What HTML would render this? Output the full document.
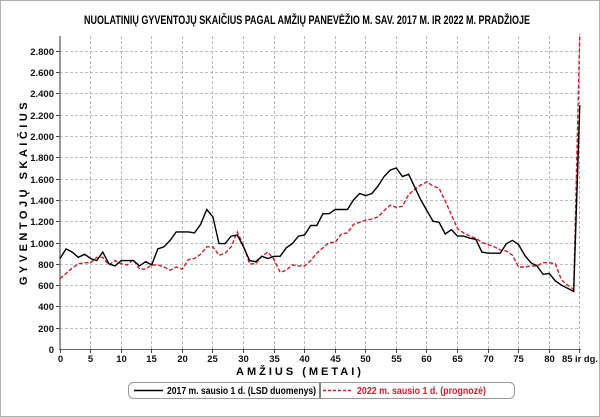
<!DOCTYPE html>
<html><head><meta charset="utf-8"><style>
body{margin:0;background:#fff}
svg{display:block;font-family:"Liberation Sans",Arial,sans-serif}
</style></head><body>
<svg id="s" width="600" height="417" viewBox="0 0 600 417" xmlns="http://www.w3.org/2000/svg">
<rect x="0.5" y="0.5" width="599" height="416" fill="#fff" stroke="#b0b0b0"/>
<text x="307" y="24" font-size="11.5" font-weight="bold" text-anchor="middle" textLength="446" lengthAdjust="spacingAndGlyphs">NUOLATINIŲ  GYVENTOJŲ  SKAIČIUS  PAGAL  AMŽIŲ  PANEVĖŽIO  M.  SAV.  2017  M.  IR  2022  M.  PRADŽIOJE</text>
<g id="grid"></g>
<line x1="60" y1="36" x2="60" y2="350" stroke="#999" stroke-width="2"/>
<line x1="59" y1="349.5" x2="581" y2="349.5" stroke="#666" stroke-width="1"/>
<g id="lbl" font-size="9.5" font-weight="bold" fill="#111"></g>
<text x="562" y="362" font-size="9.5" font-weight="bold" fill="#111" textLength="36" lengthAdjust="spacingAndGlyphs">85 ir dg.</text>
<text x="300" y="375" font-size="11" font-weight="bold" text-anchor="middle" letter-spacing="3">AMŽIUS (METAI)</text>
<text transform="translate(27,192) rotate(-90)" font-size="11" font-weight="bold" text-anchor="middle" letter-spacing="3.5">GYVENTOJŲ SKAIČIUS</text>
<polyline id="red" fill="none" stroke="#c8202c" stroke-width="1.4" stroke-dasharray="4,2"/>
<polyline id="blk" fill="none" stroke="#000" stroke-width="1.4"/>
<rect x="128.5" y="382.5" width="386" height="16" rx="5" fill="#fff" stroke="#999"/>
<line x1="320" y1="383" x2="320" y2="398" stroke="#000"/>
<line x1="134" y1="390.5" x2="163" y2="390.5" stroke="#000" stroke-width="1.5"/>
<text x="167" y="394" font-size="10" font-weight="bold" textLength="149" lengthAdjust="spacingAndGlyphs">2017 m. sausio 1 d. (LSD duomenys)</text>
<line x1="323" y1="390.5" x2="352" y2="390.5" stroke="#c8202c" stroke-width="1.5" stroke-dasharray="3,2"/>
<text x="357" y="394" font-size="10" font-weight="bold" fill="#c8202c" textLength="129" lengthAdjust="spacingAndGlyphs">2022 m. sausio 1 d. (prognozė)</text>
</svg>
<script>
var ns="http://www.w3.org/2000/svg";
function X(a){return 60+a*6.115}
function Y(v){return 349-v*0.1065}
var g=document.getElementById('grid'),l=document.getElementById('lbl');
function el(p,t,a){var e=document.createElementNS(ns,t);for(var k in a)e.setAttribute(k,a[k]);p.appendChild(e);return e}
for(var v=200;v<=2800;v+=200){var y=Y(v)+0.5|0;y+=0.5;
el(g,'line',{x1:60,y1:y,x2:580,y2:y,stroke:'#aaa','stroke-dasharray':'3,2','stroke-width':0.8});
el(l,'line',{x1:56,y1:y,x2:60,y2:y,stroke:'#444'});
var t=el(l,'text',{x:54,y:y+3.5,'text-anchor':'end'});t.textContent=v>=1000?(Math.floor(v/1000)+'.'+String(v%1000).padStart(3,'0')):v;}
var t0=el(l,'text',{x:54,y:353,'text-anchor':'end'});t0.textContent='0';
for(var a=0;a<=85;a+=5){var x=(X(a)|0)+0.5;
if(a>0)el(g,'line',{x1:x,y1:36,x2:x,y2:349,stroke:a==85?'#999':'#aaa','stroke-dasharray':'3,2','stroke-width':0.8});
el(l,'line',{x1:x,y1:349,x2:x,y2:353,stroke:'#444'});
if(a<85){var t=el(l,'text',{x:x,y:362,'text-anchor':'middle'});t.textContent=a;}}
var b=[850,940,910,860,890,850,830,910,800,780,830,830,830,780,820,790,940,960,1020,1100,1100,1100,1090,1170,1310,1240,990,990,1060,1070,960,830,820,870,850,870,870,950,990,1060,1070,1160,1160,1270,1270,1310,1310,1310,1400,1460,1440,1460,1530,1620,1680,1700,1620,1640,1520,1400,1300,1200,1190,1080,1120,1060,1060,1040,1030,910,900,900,900,990,1020,980,880,810,780,700,710,640,600,570,540,2290];
var r=[660,710,760,800,810,810,860,860,790,830,800,790,840,750,750,790,790,770,740,770,750,840,850,890,960,960,880,900,960,1100,970,800,800,870,910,840,720,740,790,780,780,830,900,950,1000,1000,1080,1090,1170,1190,1210,1220,1240,1300,1350,1330,1340,1450,1500,1540,1570,1530,1510,1390,1260,1130,1090,1060,1040,1000,980,960,930,920,880,770,770,780,780,810,810,800,650,600,560,2960];
function pts(d){return d.map(function(v,i){return X(i).toFixed(1)+','+Y(v).toFixed(1)}).join(' ')}
document.getElementById('blk').setAttribute('points',pts(b));
document.getElementById('red').setAttribute('points',pts(r));
</script>
</body></html>
